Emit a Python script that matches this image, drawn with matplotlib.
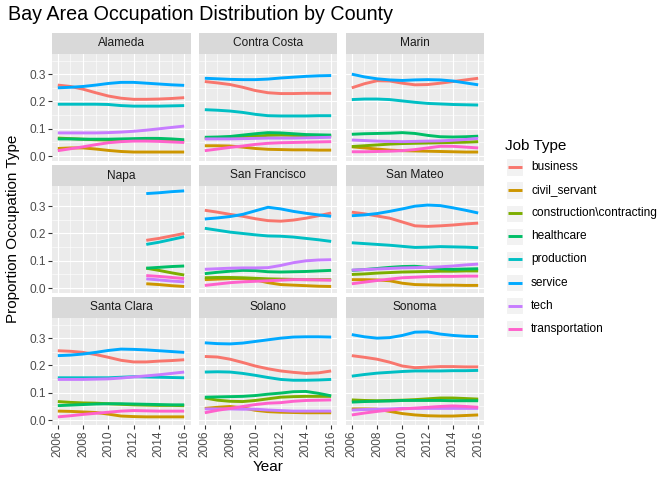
import matplotlib
matplotlib.use("Agg")
import matplotlib.pyplot as plt
import numpy as np

plt.rcParams["font.family"] = ["Liberation Sans", "DejaVu Sans"]

# values (smoothed proportion per year)
years = [2006, 2007, 2008, 2009, 2010, 2011, 2012, 2013, 2014, 2015, 2016]
napa_years = [2013, 2014, 2015, 2016]

jobs = ["business", "civil_servant", "construction\\contracting", "healthcare",
        "production", "service", "tech", "transportation"]
job_colors = ["#F8766D", "#CD9600", "#7CAE00", "#00BE67",
              "#00BFC4", "#00A9FF", "#C77CFF", "#FF61CC"]

counties = ["Alameda", "Contra Costa", "Marin", "Napa", "San Francisco",
            "San Mateo", "Santa Clara", "Solano", "Sonoma"]

alameda = {
    "business": [0.26, 0.255, 0.245, 0.232, 0.22, 0.212, 0.208, 0.208, 0.209, 0.211, 0.214],
    "civil_servant": [0.028, 0.03, 0.03, 0.026, 0.021, 0.017, 0.015, 0.015, 0.015, 0.015, 0.015],
    "construction\\contracting": [0.066, 0.064, 0.062, 0.06, 0.059, 0.058, 0.058, 0.058, 0.057, 0.056, 0.055],
    "healthcare": [0.063, 0.063, 0.062, 0.062, 0.062, 0.063, 0.064, 0.065, 0.065, 0.063, 0.06],
    "production": [0.19, 0.19, 0.19, 0.19, 0.189, 0.185, 0.183, 0.183, 0.183, 0.184, 0.185],
    "service": [0.25, 0.252, 0.255, 0.26, 0.266, 0.27, 0.27, 0.267, 0.264, 0.261, 0.259],
    "tech": [0.085, 0.085, 0.085, 0.085, 0.086, 0.088, 0.091, 0.095, 0.1, 0.105, 0.11],
    "transportation": [0.02, 0.027, 0.034, 0.042, 0.049, 0.053, 0.055, 0.055, 0.054, 0.052, 0.05],
}
contra_costa = {
    "business": [0.273, 0.268, 0.262, 0.252, 0.24, 0.232, 0.229, 0.229, 0.23, 0.23, 0.23],
    "civil_servant": [0.038, 0.038, 0.037, 0.033, 0.028, 0.025, 0.024, 0.023, 0.023, 0.022, 0.022],
    "construction\\contracting": [0.065, 0.066, 0.067, 0.07, 0.073, 0.076, 0.077, 0.076, 0.075, 0.074, 0.073],
    "healthcare": [0.069, 0.07, 0.072, 0.077, 0.082, 0.086, 0.085, 0.082, 0.079, 0.078, 0.077],
    "production": [0.17, 0.168, 0.165, 0.16, 0.153, 0.148, 0.147, 0.147, 0.147, 0.148, 0.148],
    "service": [0.285, 0.283, 0.281, 0.28, 0.28, 0.282, 0.286, 0.289, 0.292, 0.294, 0.295],
    "tech": [0.063, 0.063, 0.063, 0.064, 0.065, 0.066, 0.066, 0.066, 0.067, 0.068, 0.069],
    "transportation": [0.02, 0.026, 0.032, 0.037, 0.043, 0.047, 0.049, 0.05, 0.051, 0.052, 0.053],
}
marin = {
    "business": [0.25, 0.265, 0.276, 0.275, 0.267, 0.261, 0.262, 0.267, 0.273, 0.279, 0.285],
    "civil_servant": [0.034, 0.03, 0.026, 0.022, 0.02, 0.019, 0.018, 0.017, 0.016, 0.015, 0.015],
    "construction\\contracting": [0.035, 0.038, 0.041, 0.044, 0.046, 0.047, 0.048, 0.049, 0.05, 0.051, 0.053],
    "healthcare": [0.08, 0.082, 0.083, 0.084, 0.086, 0.083, 0.076, 0.071, 0.07, 0.071, 0.073],
    "production": [0.207, 0.209, 0.209, 0.207, 0.202, 0.197, 0.193, 0.191, 0.189, 0.188, 0.187],
    "service": [0.3, 0.29, 0.283, 0.279, 0.277, 0.279, 0.28, 0.279, 0.275, 0.268, 0.261],
    "tech": [0.059, 0.057, 0.055, 0.054, 0.053, 0.054, 0.055, 0.056, 0.058, 0.061, 0.065],
    "transportation": [0.016, 0.016, 0.017, 0.018, 0.02, 0.024, 0.03, 0.036, 0.036, 0.033, 0.03],
}
napa = {
    "business": [0.175, 0.182, 0.191, 0.2],
    "civil_servant": [0.016, 0.013, 0.009, 0.006],
    "construction\\contracting": [0.073, 0.065, 0.056, 0.048],
    "healthcare": [0.073, 0.076, 0.079, 0.081],
    "production": [0.16, 0.168, 0.178, 0.188],
    "service": [0.346, 0.349, 0.353, 0.356],
    "tech": [0.034, 0.03, 0.026, 0.023],
    "transportation": [0.046, 0.043, 0.039, 0.035],
}
san_francisco = {
    "business": [0.285, 0.278, 0.27, 0.263, 0.254, 0.247, 0.245, 0.249, 0.256, 0.265, 0.275],
    "civil_servant": [0.031, 0.033, 0.035, 0.035, 0.03, 0.02, 0.013, 0.011, 0.009, 0.007, 0.006],
    "construction\\contracting": [0.038, 0.039, 0.039, 0.038, 0.036, 0.034, 0.033, 0.032, 0.031, 0.031, 0.031],
    "healthcare": [0.053, 0.058, 0.062, 0.065, 0.064, 0.06, 0.059, 0.06, 0.061, 0.063, 0.065],
    "production": [0.219, 0.212, 0.205, 0.2, 0.195, 0.191, 0.19, 0.187, 0.182, 0.177, 0.171],
    "service": [0.253, 0.257, 0.262, 0.27, 0.283, 0.296, 0.29, 0.281, 0.274, 0.268, 0.263],
    "tech": [0.069, 0.071, 0.073, 0.074, 0.074, 0.075, 0.083, 0.093, 0.1, 0.103, 0.104],
    "transportation": [0.01, 0.015, 0.02, 0.023, 0.025, 0.027, 0.029, 0.031, 0.031, 0.03, 0.029],
}
san_mateo = {
    "business": [0.278, 0.272, 0.264, 0.256, 0.242, 0.228, 0.226, 0.228, 0.231, 0.235, 0.238],
    "civil_servant": [0.031, 0.031, 0.03, 0.027, 0.018, 0.013, 0.012, 0.011, 0.011, 0.01, 0.01],
    "construction\\contracting": [0.05, 0.052, 0.055, 0.057, 0.059, 0.06, 0.061, 0.062, 0.062, 0.063, 0.063],
    "healthcare": [0.065, 0.068, 0.072, 0.076, 0.079, 0.08, 0.076, 0.071, 0.069, 0.07, 0.071],
    "production": [0.166, 0.163, 0.16, 0.157, 0.153, 0.149, 0.15, 0.152, 0.151, 0.15, 0.148],
    "service": [0.265, 0.268, 0.273, 0.281, 0.29, 0.3, 0.304, 0.302, 0.294, 0.285, 0.275],
    "tech": [0.066, 0.068, 0.07, 0.072, 0.074, 0.075, 0.076, 0.078, 0.081, 0.085, 0.088],
    "transportation": [0.016, 0.022, 0.028, 0.033, 0.038, 0.04, 0.042, 0.043, 0.043, 0.044, 0.044],
}
santa_clara = {
    "business": [0.254, 0.252, 0.248, 0.24, 0.23, 0.219, 0.213, 0.213, 0.216, 0.218, 0.221],
    "civil_servant": [0.033, 0.032, 0.03, 0.028, 0.022, 0.015, 0.013, 0.012, 0.012, 0.012, 0.012],
    "construction\\contracting": [0.068, 0.065, 0.063, 0.062, 0.06, 0.058, 0.056, 0.055, 0.054, 0.054, 0.053],
    "healthcare": [0.053, 0.055, 0.057, 0.059, 0.06, 0.06, 0.059, 0.058, 0.057, 0.056, 0.056],
    "production": [0.155, 0.155, 0.155, 0.155, 0.155, 0.157, 0.159, 0.158, 0.157, 0.156, 0.155],
    "service": [0.236, 0.238, 0.242, 0.248, 0.255, 0.26, 0.259, 0.257, 0.254, 0.251, 0.248],
    "tech": [0.149, 0.149, 0.149, 0.15, 0.151, 0.154, 0.158, 0.162, 0.166, 0.171, 0.176],
    "transportation": [0.012, 0.016, 0.021, 0.025, 0.029, 0.033, 0.035, 0.034, 0.033, 0.033, 0.033],
}
solano = {
    "business": [0.233, 0.231, 0.223, 0.211, 0.198, 0.188, 0.18, 0.175, 0.171, 0.173, 0.18],
    "civil_servant": [0.043, 0.047, 0.05, 0.045, 0.036, 0.031, 0.029, 0.028, 0.027, 0.027, 0.027],
    "construction\\contracting": [0.081, 0.073, 0.069, 0.068, 0.072, 0.078, 0.084, 0.086, 0.087, 0.087, 0.087],
    "healthcare": [0.084, 0.085, 0.086, 0.087, 0.09, 0.095, 0.099, 0.104, 0.105, 0.098, 0.089],
    "production": [0.176, 0.177, 0.176, 0.171, 0.164, 0.156, 0.149, 0.146, 0.146, 0.147, 0.149],
    "service": [0.283, 0.28, 0.279, 0.282, 0.288, 0.294, 0.3, 0.304, 0.305, 0.305, 0.304],
    "tech": [0.041, 0.041, 0.041, 0.04, 0.04, 0.037, 0.035, 0.033, 0.033, 0.033, 0.033],
    "transportation": [0.027, 0.036, 0.043, 0.05, 0.057, 0.062, 0.064, 0.069, 0.072, 0.073, 0.074],
}
sonoma = {
    "business": [0.236, 0.23, 0.223, 0.212, 0.198, 0.192, 0.194, 0.196, 0.196, 0.195, 0.195],
    "civil_servant": [0.041, 0.041, 0.04, 0.032, 0.024, 0.019, 0.016, 0.015, 0.015, 0.017, 0.019],
    "construction\\contracting": [0.074, 0.072, 0.071, 0.072, 0.073, 0.075, 0.078, 0.081, 0.081, 0.079, 0.077],
    "healthcare": [0.066, 0.068, 0.069, 0.07, 0.072, 0.072, 0.072, 0.072, 0.071, 0.071, 0.071],
    "production": [0.161, 0.167, 0.172, 0.175, 0.178, 0.18, 0.18, 0.18, 0.181, 0.181, 0.182],
    "service": [0.313, 0.305, 0.3, 0.302, 0.31, 0.322, 0.323, 0.315, 0.31, 0.307, 0.306],
    "tech": [0.037, 0.039, 0.04, 0.041, 0.043, 0.043, 0.043, 0.043, 0.043, 0.043, 0.043],
    "transportation": [0.019, 0.026, 0.032, 0.037, 0.041, 0.044, 0.047, 0.05, 0.052, 0.05, 0.047],
}

county_data = [alameda, contra_costa, marin, napa, san_francisco,
               san_mateo, santa_clara, solano, sonoma]
county_years = [years, years, years, napa_years, years,
                years, years, years, years]

# ---- layout in pixels (672 x 480 canvas) ----
W, H = 672, 480
fig = plt.figure(figsize=(W / 100, H / 100), dpi=100)
fig.patch.set_facecolor("white")


def px_rect(x0, y0, w, h):
    return [x0 / W, 1 - (y0 + h) / H, w / W, h / H]


col_left = [51.5, 198.5, 345.5]
panel_w = 139
row_top = [54, 186, 318]
panel_h = 107
strip_h = 21

tick_col = "#4D4D4D"
for i, name in enumerate(counties):
    r, c = divmod(i, 3)
    ax = fig.add_axes(px_rect(col_left[c], row_top[r], panel_w, panel_h))
    ax.set_facecolor("#EBEBEB")
    for s in ax.spines.values():
        s.set_visible(False)
    ax.set_xlim(2005.5, 2016.5)
    ax.set_ylim(-0.0178, 0.3738)
    ax.set_xticks([2006, 2008, 2010, 2012, 2014, 2016])
    ax.set_xticks([2007, 2009, 2011, 2013, 2015], minor=True)
    ax.set_yticks([0.0, 0.1, 0.2, 0.3])
    ax.set_yticks([0.05, 0.15, 0.25, 0.35], minor=True)
    ax.grid(which="major", color="white", lw=0.8)
    ax.grid(which="minor", color="white", lw=0.4)
    ax.set_axisbelow(True)
    ax.tick_params(which="major", length=2.6, width=0.8, color="#333333",
                   labelsize=8.6, labelcolor=tick_col, pad=1.5)
    ax.tick_params(which="minor", length=0)
    if c == 0:
        ax.set_yticklabels(["0.0", "0.1", "0.2", "0.3"])
    else:
        ax.tick_params(axis="y", which="major", length=0)
        ax.set_yticklabels([])
    if r == 2:
        ax.set_xticklabels(["2006", "2008", "2010", "2012", "2014", "2016"],
                           rotation=90)
    else:
        ax.tick_params(axis="x", which="major", length=0)
        ax.set_xticklabels([])

    data = county_data[i]
    yrs = county_years[i]
    for job, col in zip(jobs, job_colors):
        ax.plot(yrs, data[job], color=col, lw=2.1, solid_capstyle="butt")

    # facet strip
    sax = fig.add_axes(px_rect(col_left[c], row_top[r] - strip_h, panel_w, strip_h))
    sax.set_facecolor("#D9D9D9")
    sax.set_xticks([])
    sax.set_yticks([])
    for s in sax.spines.values():
        s.set_visible(False)
    sax.text(0.5, 0.5, name, ha="center", va="center", fontsize=8.6,
             color="#1A1A1A", transform=sax.transAxes)

# titles
fig.text(8 / W, 1 - 15 / H, "Bay Area Occupation Distribution by County",
         fontsize=14.2, color="black", ha="left", va="center")
fig.text((col_left[0] + col_left[2] + panel_w) / 2 / W, 1 - 467 / H, "Year",
         fontsize=11, ha="center", va="center")
fig.text(13 / W, 1 - (row_top[0] - strip_h + row_top[2] + panel_h) / 2 / H,
         "Proportion Occupation Type", fontsize=11, rotation=90,
         ha="center", va="center")

# legend
lax = fig.add_axes([0, 0, 1, 1])
lax.set_xlim(0, W)
lax.set_ylim(H, 0)
lax.axis("off")
lax.text(505, 146, "Job Type", fontsize=11, ha="left", va="center")
key = 17.3
for k, (job, col) in enumerate(zip(jobs, job_colors)):
    yc = 167 + k * 23.1
    lax.add_patch(plt.Rectangle((506, yc - key / 2), key, key,
                                facecolor="#F2F2F2", edgecolor="white", lw=0.8))
    lax.plot([507.7, 521.6], [yc, yc], color=col, lw=2.1, solid_capstyle="butt")
    lax.text(531, yc, job, fontsize=8.6, color="black", ha="left", va="center")

fig.savefig("out.png", dpi=100)
